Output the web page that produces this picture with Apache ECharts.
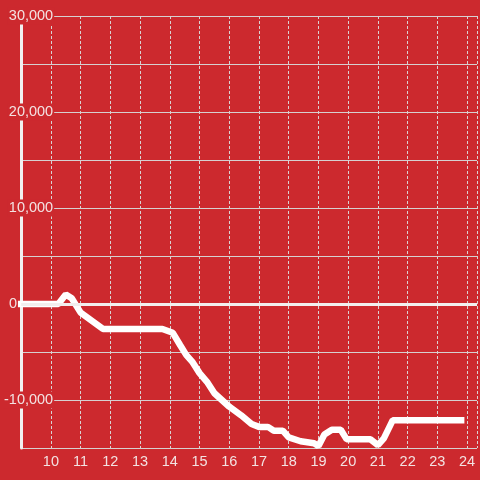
<!DOCTYPE html>
<html>
<head>
<meta charset="utf-8">
<script src="https://cdn.jsdelivr.net/npm/echarts@6/dist/echarts.min.js"></script>
<style>
  html, body { margin: 0; padding: 0; background: #cc292e; }
  #chart { width: 480px; height: 480px; }
</style>
</head>
<body>
<div id="chart"></div>
<script>
// hours of the day and running balance
const hours = [9, 10.25, 10.5, 10.7, 11.0, 11.75, 13.75, 14.1, 14.35, 14.55, 14.75, 15.0, 15.25, 15.5, 15.75, 16.0, 16.4, 16.75, 17.0, 17.3, 17.5, 17.8, 18.0, 18.4, 18.85, 19.0, 19.2, 19.45, 19.75, 19.95, 20.75, 21.0, 21.2, 21.5, 23.8];
const balance = [0, 0, 1000, 600, -900, -2600, -2600, -3000, -4300, -5300, -6000, -7200, -8100, -9300, -10000, -10700, -11600, -12500, -12800, -12800, -13200, -13200, -13900, -14300, -14500, -14800, -13600, -13100, -13100, -14100, -14100, -14700, -14000, -12100, -12100];
const yTicks = [-15000, -10000, 0, 10000, 20000, 30000];

const labelColor = '#f3e2e2';
const bg = '#cc292e';
const font = 'Liberation Sans, Arial, sans-serif';

function fmt(v) {
  const s = Math.abs(v).toString().replace(/\B(?=(\d{3})+(?!\d))/g, ',');
  return (v < 0 ? '-' : '') + s;
}

const chart = echarts.init(document.getElementById('chart'));

chart.setOption({
  backgroundColor: bg,
  animation: false,
  grid: { left: 20, right: 0, top: 16, bottom: 32 },
  xAxis: {
    type: 'value',
    min: 9,
    max: 9 + 460 / 30,
    interval: 1,
    axisLine: { show: false },
    axisTick: { show: false },
    axisLabel: {
      color: labelColor,
      fontSize: 14.5,
      fontFamily: font,
      margin: 6,
      showMinLabel: false,
      formatter: v => (Number.isInteger(v) && v > 9) ? String(v) : ''
    },
    splitLine: {
      show: true,
      lineStyle: { color: '#d9d2d2', width: 1, type: [3, 2] }
    }
  },
  yAxis: {
    type: 'value',
    min: -15000,
    max: 30000,
    interval: 5000,
    axisLine: { show: true, lineStyle: { color: '#f2f0f0', width: 3 } },
    axisTick: { show: false },
    axisLabel: {
      inside: true,
      margin: 33,
      align: 'right',
      verticalAlign: 'middle',
      color: labelColor,
      fontSize: 14.5,
      fontFamily: font,
      formatter: v => {
        if (v === 0) return '{z|0}';
        if (yTicks.indexOf(v) < 0 || v === -15000) return '';
        return '{a|' + fmt(v) + '}';
      },
      rich: {
        a: { color: labelColor, fontSize: 14.5, fontFamily: font, backgroundColor: bg, padding: [1, 1, 1, 1] },
        z: { color: labelColor, fontSize: 14.5, fontFamily: font, padding: [0, 37, 0, 0] }
      }
    },
    splitLine: { lineStyle: { color: '#d6d0d0', width: 1 } }
  },
  series: [{
    type: 'line',
    data: hours.map((h, i) => [h, balance[i]]),
    showSymbol: false,
    lineStyle: { color: '#ffffff', width: 6.5, cap: 'square' },
    markLine: {
      silent: true,
      symbol: 'none',
      label: { show: false },
      lineStyle: { color: '#f2eeee', width: 3, type: 'solid' },
      data: [{ yAxis: 0 }]
    },
    z: 3
  }]
});
</script>
</body>
</html>
